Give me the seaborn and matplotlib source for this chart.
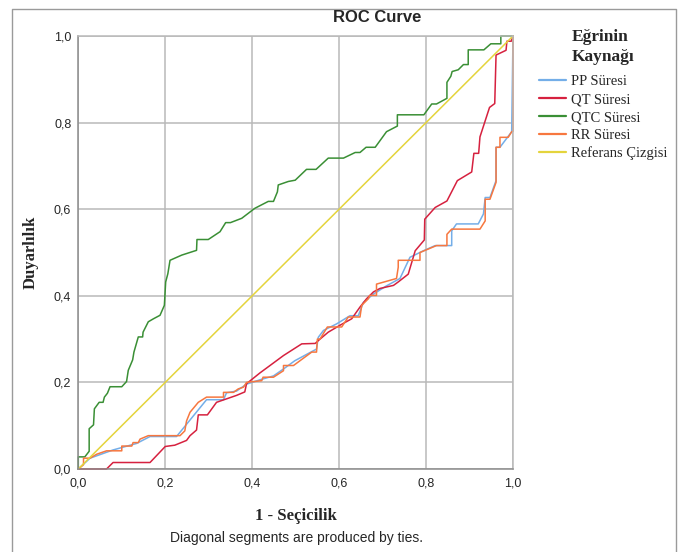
import numpy as np
import pandas as pd
import matplotlib
matplotlib.use("Agg")
import matplotlib.pyplot as plt
import seaborn as sns
from matplotlib.lines import Line2D

# ROC curve points: (1 - specificity, sensitivity)
pp_roc = [(0, 0), (0.027, 0.025), (0.08, 0.044), (0.134, 0.059), (0.165, 0.075),
          (0.226, 0.075), (0.295, 0.16), (0.334, 0.16), (0.341, 0.176), (0.364, 0.18),
          (0.387, 0.196), (0.418, 0.206), (0.449, 0.215), (0.472, 0.231), (0.498, 0.25),
          (0.548, 0.277), (0.552, 0.304), (0.564, 0.32), (0.594, 0.335), (0.625, 0.354),
          (0.644, 0.354), (0.656, 0.385), (0.679, 0.404), (0.709, 0.423), (0.74, 0.44),
          (0.763, 0.489), (0.794, 0.504), (0.821, 0.516), (0.859, 0.516), (0.859, 0.55),
          (0.87, 0.566), (0.92, 0.566), (0.932, 0.589), (0.936, 0.627), (0.947, 0.627),
          (0.961, 0.666), (0.961, 0.743), (0.97, 0.743), (0.997, 0.779), (1, 1)]

qt_roc = [(0, 0), (0.065, 0), (0.08, 0.015), (0.165, 0.015), (0.2, 0.052),
          (0.222, 0.055), (0.249, 0.066), (0.257, 0.077), (0.272, 0.09), (0.276, 0.125),
          (0.297, 0.125), (0.318, 0.154), (0.364, 0.17), (0.383, 0.178), (0.387, 0.197),
          (0.418, 0.222), (0.441, 0.239), (0.472, 0.262), (0.514, 0.289), (0.545, 0.29),
          (0.556, 0.3), (0.575, 0.316), (0.602, 0.332), (0.629, 0.347), (0.648, 0.374),
          (0.663, 0.393), (0.679, 0.409), (0.694, 0.417), (0.725, 0.424), (0.736, 0.432),
          (0.759, 0.45), (0.775, 0.504), (0.796, 0.529), (0.797, 0.577), (0.821, 0.604),
          (0.848, 0.619), (0.872, 0.666), (0.905, 0.686), (0.91, 0.729), (0.921, 0.729),
          (0.924, 0.767), (0.946, 0.835), (0.958, 0.844), (0.961, 0.956), (0.984, 0.967),
          (0.986, 0.988), (0.996, 0.988), (1, 1)]

qtc_roc = [(0, 0), (0, 0.028), (0.015, 0.028), (0.025, 0.041), (0.025, 0.093),
           (0.035, 0.102), (0.037, 0.139), (0.048, 0.154), (0.057, 0.154), (0.06, 0.166),
           (0.067, 0.175), (0.073, 0.19), (0.1, 0.19), (0.111, 0.202), (0.115, 0.228),
           (0.125, 0.252), (0.128, 0.27), (0.138, 0.305), (0.148, 0.305), (0.149, 0.316),
           (0.161, 0.34), (0.173, 0.347), (0.188, 0.355), (0.198, 0.378), (0.201, 0.432),
           (0.206, 0.451), (0.211, 0.482), (0.238, 0.494), (0.272, 0.505), (0.273, 0.53),
           (0.299, 0.53), (0.326, 0.548), (0.339, 0.569), (0.35, 0.569), (0.376, 0.579),
           (0.406, 0.602), (0.437, 0.618), (0.449, 0.618), (0.458, 0.64), (0.46, 0.656),
           (0.483, 0.664), (0.499, 0.667), (0.525, 0.692), (0.547, 0.692), (0.575, 0.718),
           (0.61, 0.718), (0.637, 0.731), (0.648, 0.731), (0.662, 0.743), (0.683, 0.743),
           (0.709, 0.779), (0.734, 0.792), (0.734, 0.818), (0.795, 0.818), (0.813, 0.843),
           (0.824, 0.843), (0.848, 0.856), (0.848, 0.893), (0.857, 0.907), (0.86, 0.918),
           (0.874, 0.922), (0.886, 0.934), (0.897, 0.934), (0.897, 0.968), (0.933, 0.968),
           (0.949, 0.982), (0.972, 0.982), (0.972, 1.0), (1, 1)]

rr_roc = [(0, 0), (0.012, 0.01), (0.012, 0.025), (0.027, 0.025), (0.042, 0.034),
          (0.065, 0.042), (0.1, 0.042), (0.1, 0.053), (0.123, 0.053), (0.126, 0.061),
          (0.138, 0.061), (0.142, 0.069), (0.161, 0.077), (0.234, 0.077), (0.245, 0.088),
          (0.249, 0.111), (0.257, 0.131), (0.276, 0.154), (0.295, 0.166), (0.334, 0.166),
          (0.334, 0.177), (0.357, 0.177), (0.368, 0.185), (0.38, 0.189), (0.387, 0.2),
          (0.422, 0.204), (0.425, 0.212), (0.449, 0.212), (0.472, 0.227), (0.472, 0.239),
          (0.495, 0.239), (0.537, 0.27), (0.548, 0.27), (0.55, 0.3), (0.556, 0.3),
          (0.573, 0.328), (0.606, 0.328), (0.621, 0.351), (0.648, 0.351), (0.652, 0.378),
          (0.667, 0.393), (0.671, 0.401), (0.686, 0.401), (0.686, 0.427), (0.732, 0.44),
          (0.736, 0.466), (0.736, 0.482), (0.786, 0.482), (0.786, 0.5), (0.824, 0.516),
          (0.848, 0.516), (0.848, 0.542), (0.859, 0.554), (0.924, 0.554), (0.936, 0.573),
          (0.936, 0.623), (0.947, 0.623), (0.961, 0.662), (0.961, 0.743), (0.97, 0.743),
          (0.97, 0.766), (0.989, 0.766), (0.997, 0.779), (1, 0.78), (1, 1)]

ref_line = [(0, 0), (1, 1)]

curve_names = ["PP Süresi", "QT Süresi", "QTC Süresi", "RR Süresi", "Referans Çizgisi"]
curve_colors = ["#74aee8", "#d6213f", "#3a8f35", "#f7773f", "#e4d43c"]
tick_values = [0.0, 0.2, 0.4, 0.6, 0.8, 1.0]


def build_frame():
    rows = []
    for name, pts in zip(curve_names, [pp_roc, qt_roc, qtc_roc, rr_roc, ref_line]):
        for i, (fx, ty) in enumerate(pts):
            rows.append({"curve": name, "order": i, "fpr": fx, "tpr": ty})
    return pd.DataFrame(rows)


sns.set_style("white")
plt.rcParams["font.family"] = ["Liberation Sans", "DejaVu Sans"]

df = build_frame()

fig = plt.figure(figsize=(6.81, 5.52), dpi=100)
ax = fig.add_axes([78.3 / 681, 1 - 469 / 552, (513 - 78.3) / 681, (469 - 36) / 552])

sns.lineplot(data=df, x="fpr", y="tpr", hue="curve", hue_order=curve_names,
             palette=curve_colors, sort=False, estimator=None, linewidth=1.1, ax=ax)
for line in ax.get_lines():
    line.set_clip_on(False)

ax.set_xlim(0, 1)
ax.set_ylim(0, 1)
ax.set_xticks(tick_values)
ax.set_yticks(tick_values)
ax.set_xticklabels([f"{v:.1f}".replace(".", ",") for v in tick_values])
ax.set_yticklabels([f"{v:.1f}".replace(".", ",") for v in tick_values])
ax.tick_params(axis="x", length=0, pad=6, labelsize=9)
ax.tick_params(axis="y", length=0, pad=5, labelsize=9)
ax.set_xlabel("")
ax.set_ylabel("")
ax.grid(True, color="#b9b9b9", linewidth=1.1)
ax.set_axisbelow(True)
for side, spine in ax.spines.items():
    spine.set_visible(True)
    spine.set_color("#8c8c8c" if side in ("left", "bottom") else "#b9b9b9")
    spine.set_linewidth(1.1)

handles, labels = ax.get_legend_handles_labels()
leg = ax.legend(handles, labels, loc="upper left",
                bbox_to_anchor=(526 / 681, 1 - 16 / 552), bbox_transform=fig.transFigure,
                frameon=False, title="Eğrinin\nKaynağı",
                prop={"family": "Liberation Serif", "size": 10.5},
                title_fontproperties={"family": "Liberation Serif", "size": 12.5, "weight": "bold"},
                handlelength=1.85, handletextpad=0.35, labelspacing=0.32)
leg.get_title().set_linespacing(1.3)
# a bit more room between the legend title and the entries
leg._legend_box.sep = 7.5
for h in leg.legend_handles:
    h.set_linewidth(1.6)

fig.text(377 / 681, 1 - 18 / 552, "ROC Curve", ha="center", va="center",
         fontsize=12, fontweight="bold")
fig.text(296 / 681, 1 - 516 / 552, "1 - Seçicilik", ha="center", va="center",
         fontsize=12, fontweight="bold", family="Liberation Serif")
fig.text(31 / 681, 1 - 252 / 552, "Duyarlılık", ha="center", va="center", rotation=90,
         fontsize=12, fontweight="bold", family="Liberation Serif")
fig.text(296 / 681, 1 - 538 / 552, "Diagonal segments are produced by ties.",
         ha="center", va="center", fontsize=10)

# outer frame around the chart
fig.add_artist(Line2D([12 / 681, 12 / 681, 676 / 681, 676 / 681],
                      [0, 1 - 9 / 552, 1 - 9 / 552, 0],
                      transform=fig.transFigure, color="#9a9a9a", linewidth=1.0))

fig.savefig("out.png", dpi=100)
